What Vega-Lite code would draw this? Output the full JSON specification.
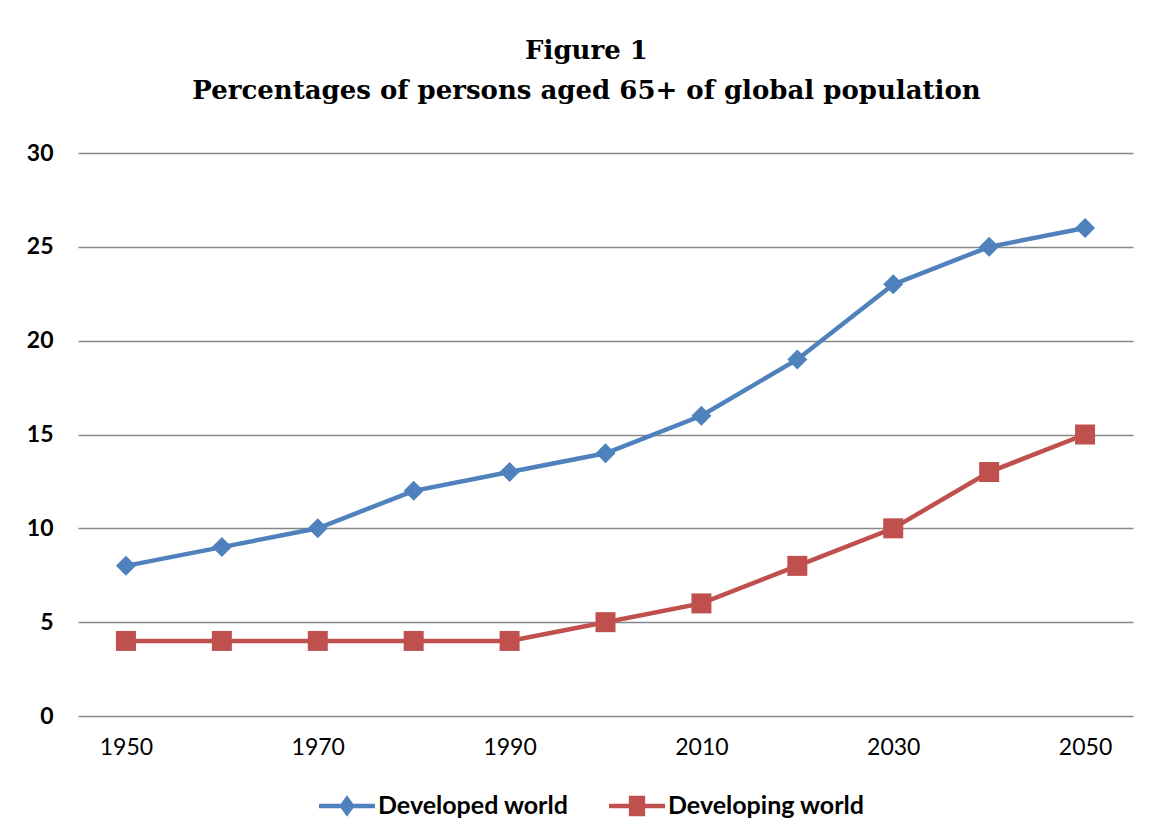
{
  "$schema": "https://vega.github.io/schema/vega-lite/v6.json",
  "autosize": "none",
  "width": 1055,
  "height": 563,
  "padding": {"left": 78, "top": 153, "right": 22, "bottom": 122},
  "background": "white",
  "title": {
    "text": ["Figure 1", "Percentages of persons aged 65+ of global population"],
    "font": "DejaVu Serif",
    "fontSize": 26,
    "fontWeight": "bold",
    "color": "black",
    "lineHeight": 40,
    "anchor": "middle",
    "dx": -19,
    "offset": 38
  },
  "config": {
    "view": {"stroke": null},
    "axis": {"labelFont": "Lato", "labelColor": "black", "labelFontSize": 23}
  },
  "data": {
    "values": [
      {"year": 1950, "series": "Developed world", "value": 8},
      {"year": 1960, "series": "Developed world", "value": 9},
      {"year": 1970, "series": "Developed world", "value": 10},
      {"year": 1980, "series": "Developed world", "value": 12},
      {"year": 1990, "series": "Developed world", "value": 13},
      {"year": 2000, "series": "Developed world", "value": 14},
      {"year": 2010, "series": "Developed world", "value": 16},
      {"year": 2020, "series": "Developed world", "value": 19},
      {"year": 2030, "series": "Developed world", "value": 23},
      {"year": 2040, "series": "Developed world", "value": 25},
      {"year": 2050, "series": "Developed world", "value": 26},
      {"year": 1950, "series": "Developing world", "value": 4},
      {"year": 1960, "series": "Developing world", "value": 4},
      {"year": 1970, "series": "Developing world", "value": 4},
      {"year": 1980, "series": "Developing world", "value": 4},
      {"year": 1990, "series": "Developing world", "value": 4},
      {"year": 2000, "series": "Developing world", "value": 5},
      {"year": 2010, "series": "Developing world", "value": 6},
      {"year": 2020, "series": "Developing world", "value": 8},
      {"year": 2030, "series": "Developing world", "value": 10},
      {"year": 2040, "series": "Developing world", "value": 13},
      {"year": 2050, "series": "Developing world", "value": 15}
    ]
  },
  "encoding": {
    "x": {
      "field": "year",
      "type": "ordinal",
      "scale": {"type": "point", "padding": 0.5},
      "axis": {
        "title": null,
        "labelAngle": 0,
        "values": [1950, 1970, 1990, 2010, 2030, 2050],
        "domain": false,
        "ticks": false,
        "grid": false,
        "labelPadding": 20
      }
    },
    "y": {
      "field": "value",
      "type": "quantitative",
      "scale": {"domain": [0, 30], "nice": false},
      "axis": {
        "title": null,
        "values": [0, 5, 10, 15, 20, 25, 30],
        "domain": false,
        "ticks": false,
        "grid": true,
        "gridColor": "#878787",
        "gridWidth": 1.3,
        "labelFontWeight": "bold",
        "labelPadding": 25
      }
    },
    "color": {
      "field": "series",
      "type": "nominal",
      "scale": {"domain": ["Developed world", "Developing world"], "range": ["#4F81BD", "#C0504D"]},
      "legend": {
        "title": null,
        "orient": "none",
        "direction": "horizontal",
        "legendX": 241,
        "legendY": 625,
        "labelFont": "Lato",
        "labelFontWeight": "bold",
        "labelFontSize": 25,
        "labelColor": "black",
        "labelLimit": 0,
        "labelOffset": 3,
        "columnPadding": 40,
        "symbolSize": 3136,
        "encode": {
          "symbols": {
            "update": {
              "opacity": {"value": 1},
              "fillOpacity": {"value": 1},
              "strokeWidth": {"value": 0},
              "size": {"value": 3136}
            }
          }
        }
      }
    }
  },
  "layer": [
    {
      "mark": {"type": "line", "strokeWidth": 4.5}
    },
    {
      "mark": {"type": "point", "filled": true, "opacity": 0, "size": 3136},
      "encoding": {
        "shape": {
          "field": "series",
          "type": "nominal",
          "scale": {
            "domain": ["Developed world", "Developing world"],
            "range": [
              "M-1,-0.08L-0.22,-0.08L0,-0.38L0.22,-0.08L1,-0.08L1,0.08L0.22,0.08L0,0.38L-0.22,0.08L-1,0.08Z",
              "M-1,-0.08L-0.29,-0.08L-0.29,-0.37L0.29,-0.37L0.29,-0.08L1,-0.08L1,0.08L0.29,0.08L0.29,0.37L-0.29,0.37L-0.29,0.08L-1,0.08Z"
            ]
          }
        }
      }
    },
    {
      "transform": [{"filter": "datum.series === 'Developed world'"}],
      "mark": {"type": "point", "filled": true, "opacity": 1, "size": 400, "shape": "diamond"}
    },
    {
      "transform": [{"filter": "datum.series === 'Developing world'"}],
      "mark": {"type": "point", "filled": true, "opacity": 1, "size": 400, "shape": "square"}
    }
  ]
}
